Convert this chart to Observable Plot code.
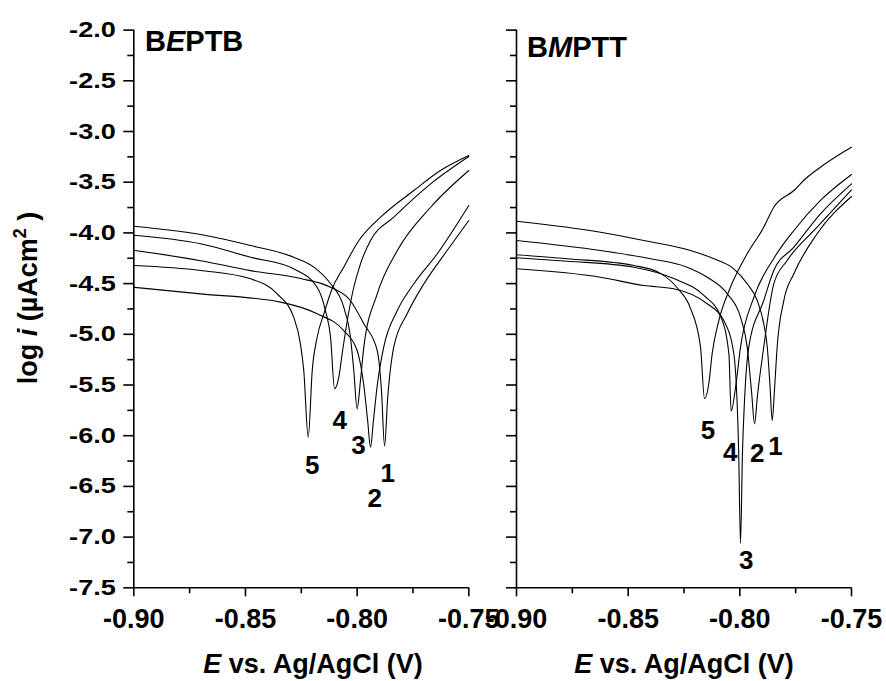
<!DOCTYPE html>
<html><head><meta charset="utf-8">
<script src="https://cdn.jsdelivr.net/npm/d3@7"></script>
<script src="https://cdn.jsdelivr.net/npm/@observablehq/plot@0.6"></script>
<style>
body{margin:0;background:#fff;}
#wrap{position:relative;width:886px;height:681px;background:#fff;overflow:hidden;}
#wrap svg{position:absolute;left:0;top:0;overflow:visible;background:transparent;}
</style></head><body><div id="wrap"></div>
<script>
const FONT = '"Liberation Sans", Arial, Helvetica, sans-serif';
const xDomain = [-0.90, -0.75];
const yDomain = [-7.5, -2.0];
const xMajor = [-0.90, -0.85, -0.80, -0.75];
const xMinor = [-0.875, -0.825, -0.775];
const yMajor = [-7.5, -7.0, -6.5, -6.0, -5.5, -5.0, -4.5, -4.0, -3.5, -3.0, -2.5, -2.0];
const yMinor = [-7.25, -6.75, -6.25, -5.75, -5.25, -4.75, -4.25, -3.75, -3.25, -2.75, -2.25];
const curveNames = ["1", "2", "3", "4", "5"];

// Left panel: BEPTB  [E (V), log i]
const bEPTB1 = [[-0.900,-4.171],[-0.8701,-4.274],[-0.8477,-4.372],[-0.8254,-4.450],[-0.8119,-4.536],[-0.8030,-4.669],[-0.7970,-4.896],[-0.7910,-5.160],[-0.7891,-5.554],[-0.7877,-6.104],[-0.7864,-5.653],[-0.7836,-5.127],[-0.7776,-4.798],[-0.7701,-4.502],[-0.7597,-4.174],[-0.7500,-3.878]];
const bEPTB2 = [[-0.900,-4.536],[-0.8701,-4.601],[-0.8343,-4.683],[-0.8179,-4.798],[-0.8060,-4.963],[-0.8000,-5.160],[-0.7970,-5.505],[-0.7953,-5.850],[-0.7940,-6.113],[-0.7927,-5.850],[-0.7910,-5.505],[-0.7881,-5.127],[-0.7820,-4.765],[-0.7746,-4.502],[-0.7641,-4.206],[-0.7500,-3.730]];
const bEPTB3 = [[-0.900,-3.934],[-0.8701,-4.016],[-0.8477,-4.125],[-0.8284,-4.240],[-0.8194,-4.338],[-0.8119,-4.502],[-0.8060,-4.733],[-0.8030,-5.029],[-0.8015,-5.357],[-0.8000,-5.735],[-0.7985,-5.455],[-0.7970,-5.127],[-0.7910,-4.601],[-0.7820,-4.174],[-0.7671,-3.747],[-0.7500,-3.385]];
const bEPTB4 = [[-0.900,-4.023],[-0.8701,-4.107],[-0.8477,-4.240],[-0.8284,-4.354],[-0.8179,-4.536],[-0.8142,-4.766],[-0.8119,-5.029],[-0.8101,-5.537],[-0.8082,-5.423],[-0.8067,-5.192],[-0.8044,-4.864],[-0.8015,-4.536],[-0.7985,-4.305],[-0.7940,-4.075],[-0.7836,-3.845],[-0.7671,-3.516],[-0.7500,-3.246]];
const bEPTB5 = [[-0.900,-4.322],[-0.8701,-4.371],[-0.8477,-4.453],[-0.8358,-4.601],[-0.8284,-4.831],[-0.8254,-5.094],[-0.8239,-5.357],[-0.8219,-6.015],[-0.8201,-5.357],[-0.8179,-5.029],[-0.8149,-4.798],[-0.8112,-4.551],[-0.8060,-4.338],[-0.7992,-4.075],[-0.7895,-3.845],[-0.7746,-3.582],[-0.7627,-3.385],[-0.7500,-3.237]];
const bEPTBLabelE = [-0.7863, -0.7921, -0.7994, -0.8078, -0.8201];
const bEPTBLabelY = [-6.376, -6.622, -6.097, -5.850, -6.294];

// Right panel: BMPTT  [E (V), log i]
const bMPTT1 = [[-0.900,-3.885],[-0.8624,-3.993],[-0.8430,-4.075],[-0.8221,-4.174],[-0.8116,-4.255],[-0.8027,-4.354],[-0.7967,-4.502],[-0.7922,-4.667],[-0.7893,-4.896],[-0.7877,-5.127],[-0.7865,-5.505],[-0.7855,-5.850],[-0.7845,-5.554],[-0.7833,-5.127],[-0.7803,-4.667],[-0.7758,-4.403],[-0.7654,-4.009],[-0.7500,-3.641]];
const bMPTT2 = [[-0.900,-4.075],[-0.8624,-4.174],[-0.8400,-4.255],[-0.8236,-4.338],[-0.8146,-4.437],[-0.8056,-4.601],[-0.7997,-4.831],[-0.7967,-5.127],[-0.7948,-5.554],[-0.7934,-5.883],[-0.7921,-5.604],[-0.7893,-5.127],[-0.7848,-4.502],[-0.7788,-4.272],[-0.7654,-3.944],[-0.7500,-3.575]];
const bMPTT3 = [[-0.900,-4.354],[-0.8624,-4.437],[-0.8430,-4.519],[-0.8296,-4.551],[-0.8146,-4.699],[-0.8072,-4.864],[-0.8027,-5.192],[-0.8005,-6.179],[-0.7997,-7.060],[-0.7988,-6.146],[-0.7979,-5.653],[-0.7960,-5.127],[-0.7893,-4.667],[-0.7848,-4.371],[-0.7758,-4.141],[-0.7639,-3.812],[-0.7500,-3.516]];
const bMPTT4 = [[-0.900,-4.245],[-0.8773,-4.279],[-0.8475,-4.338],[-0.8296,-4.450],[-0.8161,-4.617],[-0.8086,-4.823],[-0.8049,-5.192],[-0.8039,-5.758],[-0.8019,-5.522],[-0.7997,-5.127],[-0.7937,-4.634],[-0.7848,-4.252],[-0.7758,-3.976],[-0.7639,-3.680],[-0.7500,-3.424]];
const bMPTT5 = [[-0.900,-4.216],[-0.8773,-4.255],[-0.8475,-4.321],[-0.8355,-4.399],[-0.8275,-4.556],[-0.8221,-4.744],[-0.8176,-5.127],[-0.8158,-5.636],[-0.8139,-5.488],[-0.8124,-5.192],[-0.8094,-4.864],[-0.8042,-4.536],[-0.7967,-4.206],[-0.7893,-3.944],[-0.7848,-3.747],[-0.7758,-3.582],[-0.7706,-3.466],[-0.7639,-3.352],[-0.7549,-3.220],[-0.7500,-3.155]];
const bMPTTLabelE = [-0.7840, -0.7922, -0.7971, -0.8043, -0.8143];
const bMPTTLabelY = [-6.113, -6.179, -7.231, -6.163, -5.949];

const W = 886, H = 681, MT = 29.6, MB = 681 - 587.3;

function panel(curves, labE, labY, mLeft, mRight, showLabels) {
  const rows = curves.flatMap((c, i) => c.map(([E, v]) => ({E, v, k: curveNames[i]})));
  const labs = curveNames.map((n, i) => ({n, E: labE[i], v: labY[i]}));
  return Plot.plot({
    width: W, height: H,
    marginTop: MT, marginBottom: MB, marginLeft: mLeft, marginRight: mRight,
    style: {fontFamily: FONT, background: "transparent", overflow: "visible"},
    x: {domain: xDomain},
    y: {domain: yDomain},
    marks: [
      Plot.line(rows, {x: "E", y: "v", z: "k", stroke: "black", strokeWidth: 1.1, curve: "monotone-x"}),
      Plot.text(labs, {x: "E", y: "v", text: "n", fontSize: 26, fontWeight: "bold", fill: "black", textAnchor: "middle", lineAnchor: "middle"}),
      Plot.ruleX([xDomain[0]], {stroke: "black", strokeWidth: 1.6}),
      Plot.ruleY([yDomain[0]], {stroke: "black", strokeWidth: 1.6}),
      Plot.axisY({ticks: yMajor, tickSize: 10, tickPadding: 8, strokeWidth: 1.6, label: null,
        tickFormat: showLabels ? (d => d.toFixed(1)) : (() => ""),
        fontSize: 22, fontWeight: "bold", fill: "black"}),
      Plot.axisY({ticks: yMinor, tickSize: 6, strokeWidth: 1.6, label: null, tickFormat: () => ""}),
      Plot.axisX({ticks: xMajor, tickSize: 9, tickPadding: 12, strokeWidth: 1.6, label: null,
        tickFormat: d => d.toFixed(2), fontSize: 27, fontWeight: "bold", fill: "black"}),
      Plot.axisX({ticks: xMinor, tickSize: 6, strokeWidth: 1.6, label: null, tickFormat: () => ""})
    ]
  });
}

const wrap = document.getElementById("wrap");
const left = panel([bEPTB1, bEPTB2, bEPTB3, bEPTB4, bEPTB5], bEPTBLabelE, bEPTBLabelY, 133.3, W - 468.3, true);
const right = panel([bMPTT1, bMPTT2, bMPTT3, bMPTT4, bMPTT5], bMPTTLabelE, bMPTTLabelY, 516, W - 851, false);
wrap.appendChild(left);
wrap.appendChild(right);

// stretch y tick labels horizontally as in the reference
d3.select(left).selectAll('g[aria-label="y-axis tick label"] text')
  .attr("textLength", 46.7).attr("lengthAdjust", "spacingAndGlyphs");

function rich(svg, x, y, parts, size, anchor, transform) {
  const t = d3.select(svg).append("text")
    .attr("text-anchor", anchor)
    .style("font-family", FONT).style("font-weight", "bold").style("font-size", size + "px").attr("fill", "black");
  if (transform) t.attr("transform", transform); else t.attr("x", x).attr("y", y);
  for (const p of parts) {
    const s = t.append("tspan").text(p.t);
    if (p.i) s.style("font-style", "italic");
    if (p.fs) s.style("font-size", p.fs + "px");
    if (p.dy) s.attr("dy", p.dy);
  }
  return t;
}
// panel titles
rich(left, 145, 51, [{t: "B"}, {t: "E", i: true}, {t: "PTB"}], 29, "start");
rich(right, 527, 57, [{t: "B"}, {t: "M", i: true}, {t: "PTT"}], 29, "start");
// x axis titles
rich(left, 313, 673, [{t: "E", i: true}, {t: " vs. Ag/AgCl (V)"}], 27, "middle");
rich(right, 684, 673, [{t: "E", i: true}, {t: " vs. Ag/AgCl (V)"}], 27, "middle");
// y axis title
rich(left, 0, 0, [{t: "log "}, {t: "i", i: true}, {t: " (µAcm"}, {t: "2", fs: 18, dy: -11}, {t: " )", dy: 11}], 27, "middle", "translate(37,298) rotate(-90)");
</script></body></html>
